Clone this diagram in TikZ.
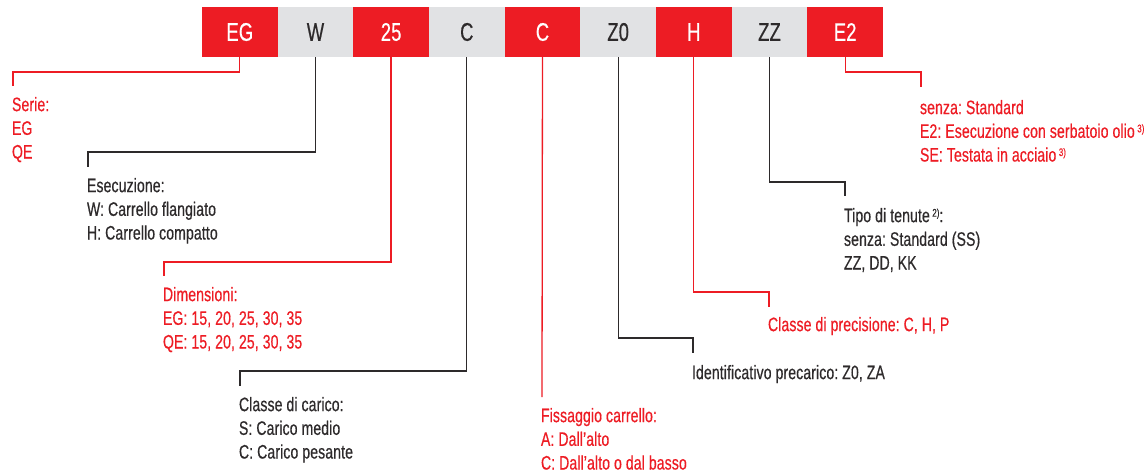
\documentclass[tikz,border=0pt]{standalone}
\usepackage{fontspec}
\setmainfont[FakeStretch=0.72,FakeBold=0.5,LetterSpace=0.6]{Liberation Sans}
\usepackage{tikz}
\usetikzlibrary{calc,positioning}
\frenchspacing
\definecolor{hiwinred}{RGB}{237,28,36}
\definecolor{cellgrey}{RGB}{225,226,228}
\definecolor{inkgrey}{RGB}{45,42,43}
\newdimen\hdim
\newdimen\wdim
\hdim=50pt
\wdim=75.67pt
\tikzstyle{cell}=[
  inner sep=0pt,
  minimum height=\hdim,
  minimum width=\wdim,
  outer sep=0pt,
  rectangle,
  text centered,
  font={\fontsize{25.5}{25.5}\selectfont},
]
\tikzstyle{redcell}=[cell, fill=hiwinred, text=white]
\tikzstyle{greycell}=[cell, fill=cellgrey, text=inkgrey]
\tikzstyle{wire}=[
  draw=inkgrey,
  line width=1.3pt,
]
\tikzstyle{redwire}=[wire, draw=hiwinred]
\tikzstyle{legend}=[
  anchor=north west,
  inner sep=0pt,
  outer sep=0pt,
  align=left,
  text=inkgrey,
  font={\fontsize{19.5}{23.7}\selectfont},
]
\tikzstyle{redlegend}=[legend, text=hiwinred]
\tikzset{
  node distance=\wdim,
}
\newcommand{\fnote}[1]{\hspace{2.5pt}{\fontsize{11}{11}\selectfont\raisebox{5.5pt}{#1}}}

\begin{document}
\begin{tikzpicture}[x=1pt,y=-1pt]
  \useasboundingbox (0,0) rectangle (1148,474);
  %% code cells
  \node (eg) [redcell] at (239.8,32) {EG};
  \node (w) [greycell, right of=eg] {W};
  \node (size) [redcell, right of=w] {25};
  \node (load) [greycell, right of=size] {C};
  \node (mount) [redcell, right of=load] {C};
  \node (preload) [greycell, right of=mount] {Z0};
  \node (prec) [redcell, right of=preload] {H};
  \node (seal) [greycell, right of=prec] {ZZ};
  \node (option) [redcell, right of=seal] {E2};
  %% legends
  \node (serie) [redlegend] at (12,97) {Serie:\\EG\\QE};
  \node (esec) [legend] at (87,178) {Esecuzione:\\W: Carrello flangiato\\H: Carrello compatto};
  \node (dim) [redlegend] at (163,287) {Dimensioni:\\EG: 15, 20, 25, 30, 35\\QE: 15, 20, 25, 30, 35};
  \node (carico) [legend] at (239,397) {Classe di carico:\\S: Carico medio\\C: Carico pesante};
  \node (fiss) [redlegend] at (541,408) {Fissaggio carrello:\\A: Dall'alto\\C: Dall'alto o dal basso};
  \node (ident) [legend] at (692,365) {Identificativo precarico: Z0, ZA};
  \node (classe) [redlegend] at (768,317) {Classe di precisione: C, H, P};
  \node (tenute) [legend] at (844,208) {Tipo di tenute\fnote{2)}:\\senza: Standard (SS)\\ZZ, DD, KK};
  \node (extra) [redlegend] at (920,100) {senza: Standard\\E2: Esecuzione con serbatoio olio\fnote{3)}\\SE: Testata in acciaio\fnote{3)}};
  %% connectors
  \draw [redwire] (eg.south) -- ++(0,15) -| ([xshift=1pt,yshift=11pt]serie.north west);
  \draw [wire] (w.south) -- ++(0,95) -| ([xshift=1pt,yshift=11pt]esec.north west);
  \draw [redwire] (size.south) -- ++(0,205) -| ([xshift=1pt,yshift=11pt]dim.north west);
  \draw [wire] (load.south) -- ++(0,314) -| ([xshift=1pt,yshift=11pt]carico.north west);
  \draw [redwire] (mount.south) -- ([xshift=1pt,yshift=11pt]fiss.north west);
  \draw [wire] (preload.south) -- ++(0,281) -| ([xshift=1pt,yshift=12pt]ident.north west);
  \draw [redwire] (prec.south) -- ++(0,235) -| ([xshift=1pt,yshift=10pt]classe.north west);
  \draw [wire] (seal.south) -- ++(0,125) -| ([xshift=1pt,yshift=12pt]tenute.north west);
  \draw [redwire] (option.south) -- ++(0,15) -| ([xshift=1pt,yshift=13pt]extra.north west);
\end{tikzpicture}
\end{document}
